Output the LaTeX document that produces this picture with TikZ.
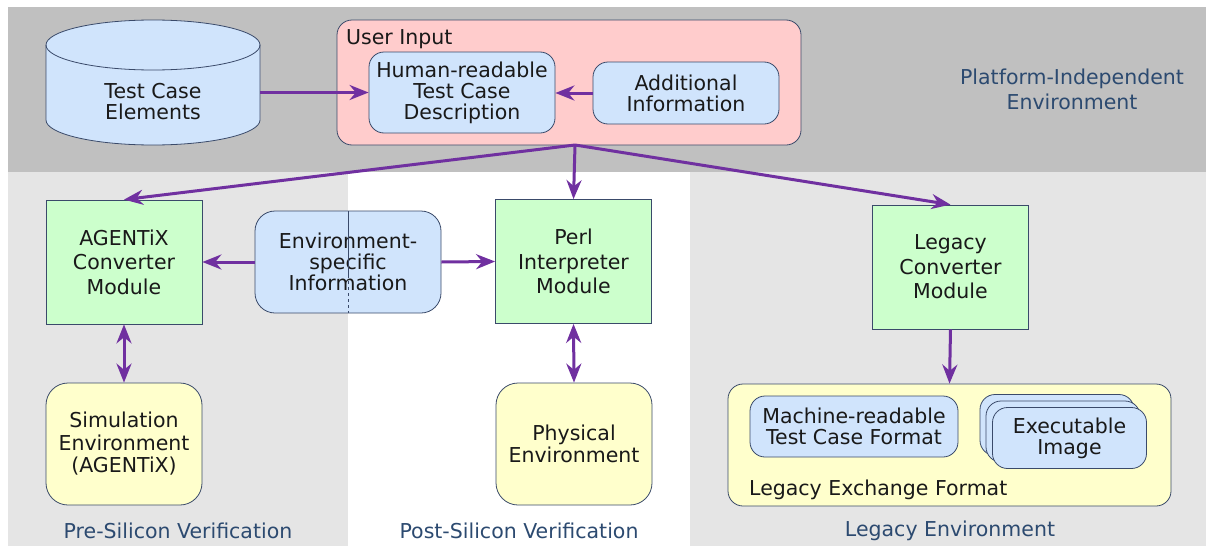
\documentclass[tikz,border=0pt]{standalone}
\usepackage{fontspec}
\setmainfont{DejaVu Sans}
\usetikzlibrary{shapes.geometric,arrows.meta,positioning}

\definecolor{bandgray}{HTML}{C0C0C0}
\definecolor{zonegray}{HTML}{E5E5E5}
\definecolor{edgeblue}{HTML}{3A4A6A}
\definecolor{inpink}{HTML}{FFCCCC}
\definecolor{infoblue}{HTML}{D0E4FC}
\definecolor{modgreen}{HTML}{CCFFCC}
\definecolor{envyellow}{HTML}{FFFFCC}
\definecolor{flowpurple}{HTML}{7030A0}
\definecolor{zonetext}{HTML}{2C4A70}

\tikzset{
  boxfont/.style={font=\fontsize{20.5}{21}\selectfont, text=black!90},
  module/.style={font=\fontsize{20.5}{24.5}\selectfont, text=black!90,
    draw=edgeblue, line width=0.8pt, fill=modgreen,
    align=center, minimum width=156pt, minimum height=124pt},
  infobox/.style={boxfont, draw=edgeblue, line width=0.8pt, fill=infoblue,
    align=center, rounded corners=15pt, inner sep=0pt},
  envbox/.style={font=\fontsize{20.5}{22.5}\selectfont, text=black!90,
    draw=edgeblue, line width=0.8pt, fill=envyellow,
    align=center, rounded corners=22pt, minimum width=156pt, minimum height=122pt},
  zonelabel/.style={font=\fontsize{20.5}{25}\selectfont, text=zonetext, align=center},
  flow/.style={draw=flowpurple, line width=3pt, -{Stealth[length=19pt,width=15pt]}},
  bothflow/.style={flow, {Stealth[length=19pt,width=15pt]}-{Stealth[length=19pt,width=15pt]}}
}

\begin{document}
\begin{tikzpicture}[x=1pt,y=-1pt]
  \useasboundingbox (0,0) rectangle (1206,546);

  % Environment zones
  \fill[bandgray] (8,7) rectangle (1206,172);
  \fill[zonegray] (8,172) rectangle (348,546);
  \fill[zonegray] (690,172) rectangle (1206,546);

  % Platform-independent part
  \filldraw[fill=infoblue, draw=edgeblue, line width=0.8pt]
    (46,45) -- (46,120) arc[start angle=180, end angle=0, x radius=107, y radius=25]
    -- (260,45) arc[start angle=0, end angle=-180, x radius=107, y radius=25] -- cycle;
  \draw[edgeblue, line width=0.8pt]
    (46,45) arc[start angle=180, end angle=0, x radius=107, y radius=25];
  \node[boxfont, align=center, minimum width=214pt] (tce) at (153,102)
    {Test Case\\Elements};
  \node[boxfont, draw=edgeblue, line width=0.8pt, fill=inpink, rounded corners=15pt,
    minimum width=464pt, minimum height=125pt] (ui) at (569,82.5) {};
  \node[boxfont, anchor=north west, inner sep=0pt] (uilabel) at (346,29) {User Input};
  \node[infobox, minimum width=186pt, minimum height=81pt] (hum) at (462,92.5)
    {Human-readable\\Test Case\\Description};
  \node[infobox, minimum width=186pt, minimum height=62pt] (addl) at (686,93)
    {Additional\\Information};
  \node[zonelabel] (platform) at (1072,89) {Platform-Independent\\Environment};

  % Converters and interpreter
  \node[module] (agx) at (124,262) {AGENTiX\\Converter\\Module};
  \node[infobox, rounded corners=20pt, minimum width=186pt, minimum height=102pt]
    (envinfo) at (348,262) {Environment-\\specific\\Information};
  \draw[edgeblue, line width=0.8pt] (348,211) -- (348,275);
  \draw[edgeblue, line width=0.8pt, dashed] (348,275) -- (348,313);
  \node[module] (perl) at (573.5,261.5) {Perl\\Interpreter\\Module};
  \node[module] (legacy) at (950.5,267) {Legacy\\Converter\\Module};

  % Target environments
  \node[envbox] (sim) at (124,444) {Simulation\\Environment\\(AGENTiX)};
  \node[envbox] (phys) at (574,444) {Physical\\Environment};
  \node[envbox, rounded corners=15pt, minimum width=443pt, minimum height=122pt]
    (lef) at (949.5,445) {};
  \node[boxfont, anchor=south west, inner sep=0pt] (leflabel) at (749,500)
    {Legacy Exchange Format};
  \node[infobox, minimum width=208pt, minimum height=61pt] (mrt) at (854,426.5)
    {Machine-readable\\Test Case Format};
  \node[infobox, minimum width=154pt, minimum height=61pt] (exback) at (1057,425) {};
  \node[infobox, minimum width=154pt, minimum height=61pt] (exmid) at (1063,431.5) {};
  \node[infobox, minimum width=154pt, minimum height=61pt] (exe) at (1069.5,438)
    {Executable\\Image};

  % Zone captions
  \node[zonelabel] (pre) at (178,531) {Pre-Silicon Verification};
  \node[zonelabel] (post) at (519,531) {Post-Silicon Verification};
  \node[zonelabel] (legenv) at (950,531) {Legacy Environment};

  % Flows
  \coordinate (fan) at (575,145);
  \draw[flow] (hum.west -| tce.east) -- (hum.west);
  \draw[flow] (addl.west) -- (addl.west -| hum.east);
  \draw[flow] (fan) -- (agx.north);
  \draw[flow] (fan) -- (perl.north);
  \draw[flow] (fan) -- (legacy.north);
  \draw[flow] (envinfo.west) -- (agx.east);
  \draw[flow] (envinfo.east) -- (perl.west);
  \draw[bothflow] (agx.south) -- (sim.north);
  \draw[bothflow] (perl.south) -- (phys.north);
  \draw[flow] (legacy.south) -- (lef.north);
\end{tikzpicture}
\end{document}
